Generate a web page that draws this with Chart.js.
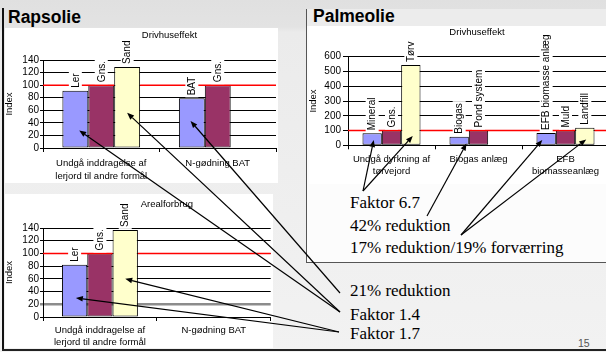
<!DOCTYPE html>
<html><head><meta charset="utf-8">
<script src="https://cdn.jsdelivr.net/npm/chart.js@4/dist/chart.umd.min.js"></script>
<style>
html,body{margin:0;padding:0;}
body{width:606px;height:352px;overflow:hidden;position:relative;background:linear-gradient(180deg,#e0e0e0 0px,#e3e3e3 27px,#ebebeb 32px,#f2f2f2 352px);font-family:"Liberation Sans",Arial,sans-serif;}
canvas{position:absolute;display:block;}
#rapDriv{left:5px;top:28px;background:#fff;}
#rapAreal{left:5px;top:194px;background:#fff;}
#palm{left:309px;top:26px;background:#fff;}
#ov{left:0;top:0;z-index:10;pointer-events:none;}
.t{position:absolute;white-space:nowrap;color:#000;}
.h{font-weight:bold;font-size:17.5px;line-height:18px;}
.n{font-family:"Liberation Serif","Times New Roman",serif;font-size:17px;line-height:17px;}
#leftBar{position:absolute;left:2px;top:8px;width:2px;height:342px;background:#111;}
#botBar{position:absolute;left:2px;top:348.5px;width:604px;height:2px;background:#222;}
#palmBox{position:absolute;left:306px;top:9px;width:302px;height:253px;border-left:1.5px solid #555;border-bottom:1.5px solid #555;background:#fcfcfc;}
#palmHead{position:absolute;left:0;top:0;width:302px;height:17px;background:#ececec;}
</style>
</head>
<body>
<div id="leftBar"></div>
<div id="palmBox"><div id="palmHead"></div></div>
<div id="botBar"></div>
<div class="t h" style="left:8px;top:8px;">Rapsolie</div>
<div class="t h" style="left:313px;top:7px;">Palmeolie</div>
<canvas id="rapDriv" width="273" height="155"></canvas>
<canvas id="rapAreal" width="268" height="154"></canvas>
<canvas id="palm" width="300" height="158"></canvas>
<div class="t n" style="left:350px;top:194px;">Faktor 6.7</div>
<div class="t n" style="left:350px;top:217px;">42% reduktion</div>
<div class="t n" style="left:350px;top:239px;">17% reduktion/19% forværring</div>
<div class="t n" style="left:350px;top:282px;">21% reduktion</div>
<div class="t n" style="left:350px;top:306px;">Faktor 1.4</div>
<div class="t n" style="left:350px;top:325px;">Faktor 1.7</div>
<div class="t" style="left:578px;top:338px;font-size:10.5px;line-height:11px;color:#555;">15</div>
<canvas id="ov" width="606" height="352"></canvas>
<script>
// ---------- data ----------
const rapCategories = [['Undgå inddragelse af', 'lerjord til andre formål'], 'N-gødning BAT'];
const rapDrivBlue = [91, 79];
const rapDrivMaroon = [100, 100];
const rapDrivYellow = [129, null];
const rapDrivBlueLabels = ['Ler', 'BAT'];
const rapDrivMaroonLabels = ['Gns.', 'Gns.'];
const rapDrivYellowLabels = ['Sand', null];

const rapArealBlue = [82, null];
const rapArealMaroon = [100, null];
const rapArealYellow = [137, null];
const rapArealBlueLabels = ['Ler', null];
const rapArealMaroonLabels = ['Gns.', null];
const rapArealYellowLabels = ['Sand', null];

const palmCategories = [['Undgå dyrkning af', 'tørvejord'], 'Biogas anlæg', ['EFB', 'biomasseanlæg']];
const palmBlue = [81, 58, 83];
const palmMaroon = [100, 100, 100];
const palmYellow = [543, null, 119];
const palmBlueLabels = ['Mineral', 'Biogas', 'EFB biomasse anlæg'];
const palmMaroonLabels = ['Gns.', 'Pond system', 'Muld'];
const palmYellowLabels = ['Tørv', null, 'Landfill'];

const rapTicks = [0, 20, 40, 60, 80, 100, 120, 140];
const palmTicks = [0, 100, 200, 300, 400, 500, 600];
const referenceValue = 100;

const noteTexts = ['Faktor 6.7', '42% reduktion', '17% reduktion/19% forværring', '21% reduktion', 'Faktor 1.4', 'Faktor 1.7'];
const noteTails = {
  'Faktor 6.7': [363, 191],
  '42% reduktion': [427, 216],
  '17% reduktion/19% forværring': [461, 235],
  '21% reduktion': [340, 293],
  'Faktor 1.4': [340, 312],
  'Faktor 1.7': [339, 332]
};
const arrowTargets = [
  {chart: 'rapDriv', ds: 0, i: 0, v: 28, dx: 0.15, note: 'Faktor 1.4'},
  {chart: 'rapDriv', ds: 2, i: 0, v: 56, dx: 0, note: 'Faktor 1.4'},
  {chart: 'rapDriv', ds: 0, i: 1, v: 43, dx: -0.05, note: '21% reduktion'},
  {chart: 'rapAreal', ds: 0, i: 0, v: 30, dx: 0.05, note: 'Faktor 1.7'},
  {chart: 'rapAreal', ds: 2, i: 0, v: 60, dx: 0, note: 'Faktor 1.7'},
  {chart: 'palm', ds: 0, i: 0, v: 36, dx: 0.08, note: 'Faktor 6.7'},
  {chart: 'palm', ds: 2, i: 0, v: 63, dx: 0.1, note: 'Faktor 6.7'},
  {chart: 'palm', ds: 0, i: 1, v: 12, dx: 0.38, note: '42% reduktion'},
  {chart: 'palm', ds: 0, i: 2, v: 36, dx: -0.2, note: '17% reduktion/19% forværring'},
  {chart: 'palm', ds: 2, i: 2, v: 40, dx: 0.07, note: '17% reduktion/19% forværring'}
];

// ---------- styling ----------
Chart.defaults.font.family = '"Liberation Sans", Arial, sans-serif';
Chart.defaults.color = '#000';
const BLUE = '#9999ff', MAROON = '#993366', YELLOW = '#ffffcc';

const slidePlugin = {
  id: 'slide',
  beforeDatasetsDraw(chart) {
    const o = chart.options.plugins.slide;
    const y = chart.scales.y.getPixelForValue(o.ref);
    const gaps = [];
    chart.data.datasets.forEach((ds, di) => {
      chart.getDatasetMeta(di).data.forEach((el, i) => {
        if (ds.data[i] != null && ds.data[i] > o.ref) gaps.push([el.x - el.width / 2, el.x + el.width / 2]);
      });
    });
    o._gaps = gaps; o._y = y;
  },
  afterDatasetsDraw(chart) {
    const o = chart.options.plugins.slide;
    const ctx = chart.ctx, a = chart.chartArea;
    const gaps = o._gaps.sort((p, q) => p[0] - q[0]);
    ctx.save();
    ctx.strokeStyle = '#ff0000';
    ctx.lineWidth = 1.5;
    let x0 = a.left;
    ctx.beginPath();
    gaps.forEach(g => { if (g[0] > x0) { ctx.moveTo(x0, o._y); ctx.lineTo(g[0], o._y); } x0 = Math.max(x0, g[1]); });
    if (x0 < a.right) { ctx.moveTo(x0, o._y); ctx.lineTo(a.right, o._y); }
    ctx.stroke();
    ctx.restore();
    ctx.save();
    ctx.font = '10px "Liberation Sans", Arial, sans-serif';
    chart.data.datasets.forEach((ds, di) => {
      const meta = chart.getDatasetMeta(di);
      (ds.barLabels || []).forEach((lab, i) => {
        if (!lab || ds.data[i] == null) return;
        const el = meta.data[i];
        const w = ctx.measureText(lab).width;
        const bottom = el.y - 3, pad = 2, h = 13;
        ctx.fillStyle = '#fff';
        ctx.fillRect(el.x - h / 2, bottom - w - pad, h, w + pad * 2);
        ctx.save();
        ctx.translate(el.x, bottom);
        ctx.rotate(-Math.PI / 2);
        ctx.fillStyle = '#000';
        ctx.textAlign = 'left';
        ctx.textBaseline = 'middle';
        ctx.fillText(lab, 0, 0.5);
        ctx.restore();
      });
    });
    ctx.restore();
  },
  afterDraw(chart) {
    const o = chart.options.plugins.slide;
    const ctx = chart.ctx, a = chart.chartArea;
    ctx.save();
    ctx.font = '9.5px "Liberation Sans", Arial, sans-serif';
    ctx.fillStyle = '#000';
    ctx.textAlign = 'center';
    ctx.textBaseline = 'middle';
    ctx.fillText(o.title, (a.left + a.right) / 2 + o.titleDx, o.titleY);
    ctx.restore();
  }
};

function yScale(ticksArr, yWidth, tickLen, pad, special) {
  return {
    min: ticksArr[0], max: ticksArr[ticksArr.length - 1],
    afterBuildTicks: s => { s.ticks = ticksArr.map(v => ({value: v})); },
    afterFit: s => { s.width = yWidth; },
    grid: {
      color: c => (special && c.tick && c.tick.value === special) ? '#8c8c8c' : '#000',
      lineWidth: c => (special && c.tick && c.tick.value === special) ? 2.5 : 1,
      tickLength: tickLen, drawTicks: true
    },
    border: {color: '#000', width: 1},
    ticks: {color: '#000', font: {size: 10}, padding: pad, autoSkip: false},
    title: {display: true, text: 'Index', color: '#000', font: {size: 9.5, lineHeight: 1}, padding: 0}
  };
}
function xScale(xHeight, pad) {
  return {
    afterFit: s => { s.height = xHeight; },
    grid: {offset: true, drawOnChartArea: false, color: '#000', tickLength: 4},
    border: {color: '#000', width: 1},
    ticks: {color: '#000', font: {size: 9.5, lineHeight: 1.35}, padding: pad, maxRotation: 0, minRotation: 0, autoSkip: false}
  };
}
function ds(data, color, labels) {
  return {data: data, backgroundColor: color, borderColor: '#000', borderWidth: 1, borderSkipped: false, barLabels: labels,
          categoryPercentage: 0.667, barPercentage: 1.0};
}
function makeChart(id, cats, sets, yS, xS, padding, slideOpts) {
  return new Chart(document.getElementById(id), {
    type: 'bar',
    data: {labels: cats, datasets: sets},
    options: {
      responsive: false, animation: false,
      layout: {padding: padding},
      scales: {x: xS, y: yS},
      plugins: {legend: {display: false}, tooltip: {enabled: false}, title: {display: false}, slide: slideOpts}
    },
    plugins: [slidePlugin]
  });
}

const charts = {};
charts.rapDriv = makeChart('rapDriv', rapCategories,
  [ds(rapDrivBlue, BLUE, rapDrivBlueLabels), ds(rapDrivMaroon, MAROON, rapDrivMaroonLabels), ds(rapDrivYellow, YELLOW, rapDrivYellowLabels)],
  yScale(rapTicks, 38, 3, 1), xScale(35, 5.1), {left: 0, top: 32, right: 2, bottom: 0},
  {ref: referenceValue, title: 'Drivhuseffekt', titleDx: 10, titleY: 7});

charts.rapAreal = makeChart('rapAreal', rapCategories,
  [ds(rapArealBlue, BLUE, rapArealBlueLabels), ds(rapArealMaroon, MAROON, rapArealMaroonLabels), ds(rapArealYellow, YELLOW, rapArealYellowLabels)],
  yScale(rapTicks, 38, 3, 1, 20), xScale(31, 2.6), {left: 0, top: 34, right: 2.3, bottom: 0},
  {ref: referenceValue, title: 'Arealforbrug', titleDx: 10, titleY: 10});

charts.palm = makeChart('palm', palmCategories,
  [ds(palmBlue, BLUE, palmBlueLabels), ds(palmMaroon, MAROON, palmMaroonLabels), ds(palmYellow, YELLOW, palmYellowLabels)],
  yScale(palmTicks, 39, 5, 2), xScale(38.7, 3.3), {left: 0, top: 30.7, right: 0, bottom: 0},
  {ref: referenceValue, title: 'Drivhuseffekt', titleDx: -1.5, titleY: 6});

// ---------- arrows ----------
function drawArrows() {
  const ov = document.getElementById('ov');
  const c = ov.getContext('2d');
  c.clearRect(0, 0, ov.width, ov.height);
  c.strokeStyle = '#000';
  c.fillStyle = '#000';
  c.lineWidth = 1.2;
  arrowTargets.forEach(a => {
    const ch = charts[a.chart];
    const el = ch.getDatasetMeta(a.ds).data[a.i];
    const cv = ch.canvas;
    const tx = cv.offsetLeft + el.x + a.dx * el.width;
    const ty = cv.offsetTop + ch.scales.y.getPixelForValue(a.v);
    const s = noteTails[a.note];
    const ang = Math.atan2(ty - s[1], tx - s[0]);
    const hl = 7, hw = 2.8;
    const bx = tx - hl * Math.cos(ang), by = ty - hl * Math.sin(ang);
    c.beginPath(); c.moveTo(s[0], s[1]); c.lineTo(bx, by); c.stroke();
    c.beginPath();
    c.moveTo(tx, ty);
    c.lineTo(bx + hw * Math.sin(ang), by - hw * Math.cos(ang));
    c.lineTo(bx - hw * Math.sin(ang), by + hw * Math.cos(ang));
    c.closePath(); c.fill();
  });
}
drawArrows();
</script>
</body></html>
